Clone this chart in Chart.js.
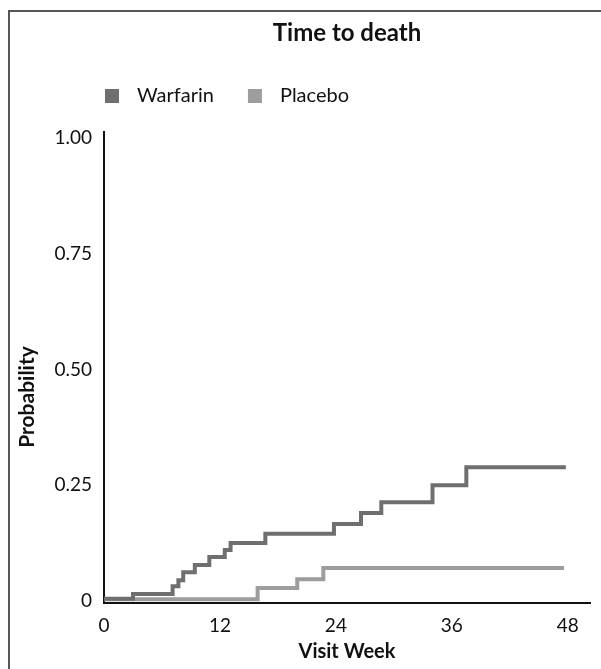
<!DOCTYPE html>
<html>
<head>
<meta charset="utf-8">
<script src="https://cdn.jsdelivr.net/npm/chart.js@4.4.1/dist/chart.umd.min.js"></script>
<style>
  html, body { margin: 0; padding: 0; background: #fff; }
  canvas { display: block; }
</style>
</head>
<body>
<canvas id="chart" width="601" height="669"></canvas>
<script>
// step points (week, cumulative probability)
const seriesNames = ["Warfarin", "Placebo"];
const warfarinWeeks = [0, 3, 7.1, 7.7, 8.2, 9.4, 10.9, 12.5, 13.1, 16.7, 23.8, 26.6, 28.7, 34, 37.5, 47.8];
const warfarinProb = [0.005, 0.015, 0.032, 0.045, 0.062, 0.078, 0.095, 0.11, 0.125, 0.145, 0.166, 0.19, 0.213, 0.25, 0.289, 0.289];
const placeboWeeks = [0, 15.9, 20, 22.7, 47.6];
const placeboProb = [0.004, 0.028, 0.047, 0.071, 0.071];
const xTicks = [0, 12, 24, 36, 48];
const yTicks = [0, 0.25, 0.5, 0.75, 1];

const FONT = "Lato, 'Open Sans', sans-serif";
const colors = ["#6f6f6f", "#9d9d9d"];

const toPoints = (xs, ys) => xs.map((x, i) => ({x: x, y: ys[i]}));

// border frame, legend and rotated y title
const decorations = {
  id: "decorations",
  afterDraw(chart) {
    const ctx = chart.ctx;
    ctx.save();
    ctx.strokeStyle = "#555";
    ctx.lineWidth = 2;
    ctx.beginPath();
    ctx.moveTo(9, 669);
    ctx.lineTo(9, 11);
    ctx.lineTo(601, 11);
    ctx.stroke();

    // legend
    ctx.font = "20px " + FONT;
    ctx.textBaseline = "middle";
    ctx.textAlign = "left";
    let x = chart.chartArea.left + 1;
    chart.data.datasets.forEach((ds) => {
      ctx.fillStyle = ds.borderColor;
      ctx.fillRect(x, 89, 14, 14);
      ctx.fillStyle = "#111";
      ctx.fillText(ds.label, x + 32, 96);
      x += 32 + ctx.measureText(ds.label).width + 34;
    });

    // y axis title
    ctx.font = "bold 21px " + FONT;
    ctx.fillStyle = "#111";
    ctx.textAlign = "center";
    ctx.translate(27, 397);
    ctx.rotate(-Math.PI / 2);
    ctx.fillText("Probability", 0, 0);
    ctx.restore();
  },
};

new Chart(document.getElementById("chart"), {
  type: "line",
  data: {
    datasets: [
      {
        label: seriesNames[0],
        data: toPoints(warfarinWeeks, warfarinProb),
        borderColor: colors[0],
        backgroundColor: colors[0],
        borderWidth: 4,
        pointRadius: 0,
        stepped: true,
        fill: false,
      },
      {
        label: seriesNames[1],
        data: toPoints(placeboWeeks, placeboProb),
        borderColor: colors[1],
        backgroundColor: colors[1],
        borderWidth: 4,
        pointRadius: 0,
        stepped: true,
        fill: false,
      },
    ],
  },
  options: {
    responsive: false,
    animation: false,
    layout: {padding: {left: 0, right: 11, top: 0, bottom: 0}},
    scales: {
      x: {
        type: "linear",
        min: 0,
        max: 50.3,
        grid: {display: false},
        border: {display: true, color: "#111", width: 2},
        afterBuildTicks: (scale) => {
          scale.ticks = xTicks.map((v) => ({value: v}));
        },
        afterFit: (scale) => {
          scale.height = 66;
        },
        ticks: {
          padding: 3,
          color: "#111",
          font: {family: FONT, size: 19},
          maxRotation: 0,
          callback: (v) => String(v),
        },
        title: {
          display: true,
          text: "Visit Week",
          color: "#111",
          font: {family: FONT, size: 20, weight: "bold"},
          padding: {top: 0, bottom: 5},
        },
      },
      y: {
        type: "linear",
        min: -0.0043,
        max: 1.013,
        grid: {display: false},
        border: {display: true, color: "#111", width: 2},
        afterBuildTicks: (scale) => {
          scale.ticks = yTicks.map((v) => ({value: v}));
        },
        afterFit: (scale) => {
          scale.width = 104;
        },
        ticks: {
          padding: 4,
          color: "#111",
          font: {family: FONT, size: 19},
          callback: (v) => (v === 0 ? "0" : v.toFixed(2)),
        },
      },
    },
    plugins: {
      legend: {display: false},
      tooltip: {enabled: false},
      title: {
        display: true,
        text: "Time to death",
        fullSize: false,
        color: "#111",
        font: {family: FONT, size: 24, weight: "bold"},
        padding: {top: 19, bottom: 84},
      },
    },
  },
  plugins: [decorations],
});
</script>
</body>
</html>
